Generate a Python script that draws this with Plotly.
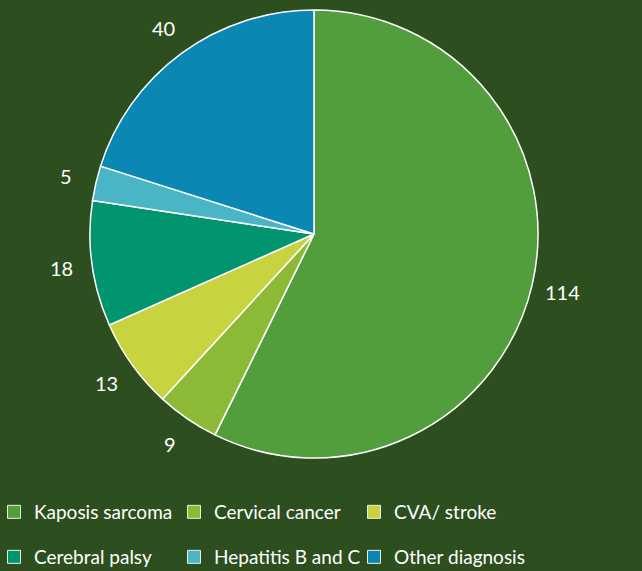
import math
import plotly.graph_objects as go

labels = ["Kaposis sarcoma", "Cervical cancer", "CVA/ stroke",
          "Cerebral palsy", "Hepatitis B and C", "Other diagnosis"]
values = [114, 9, 13, 18, 5, 40]
colors = ["#529E3C", "#8CB936", "#C7D33F", "#00956F", "#4AB5C5", "#0A87B2"]

W, H = 642, 571
CX, CY, R = 314, 234, 224   # pie centre / radius in px
LABEL_R = 255

BG = "#2D4E1E"
FONT = "Lato"

fig = go.Figure()
fig.add_trace(go.Pie(
    labels=labels, values=values, sort=False, direction="clockwise", rotation=0,
    marker=dict(colors=colors, line=dict(color="white", width=1.5)),
    textinfo="none", hoverinfo="label+value", showlegend=False,
    domain=dict(x=[(CX - R) / W, (CX + R) / W],
                y=[(H - CY - R) / H, (H - CY + R) / H]),
))

# legend proxies (two rows of three)
for i, (lab, col) in enumerate(zip(labels, colors)):
    fig.add_trace(go.Scatter(
        x=[None], y=[None], mode="markers", name=lab,
        marker=dict(symbol="square", size=13, color=col,
                    line=dict(color="#E8F0E0", width=1)),
        legend="legend" if i < 3 else "legend2", hoverinfo="skip"))

total = sum(values)
cum = 0
annotations = []
for v in values:
    mid = (cum + v / 2) / total * 2 * math.pi
    cum += v
    px = CX + LABEL_R * math.sin(mid)
    py = CY - LABEL_R * math.cos(mid)
    annotations.append(dict(x=px / W, y=1 - py / H, xref="paper", yref="paper",
                            text=str(v), showarrow=False,
                            font=dict(color="white", size=20, family=FONT),
                            xanchor="center", yanchor="middle"))

leg_common = dict(orientation="h", xanchor="left", yanchor="middle",
                  xref="container", yref="container",
                  entrywidth=141, indentation=-6,
                  font=dict(color="white", size=19, family=FONT),
                  itemclick=False, itemdoubleclick=False, bgcolor="rgba(0,0,0,0)")

fig.update_layout(
    width=W, height=H, margin=dict(l=0, r=0, t=0, b=0, autoexpand=False),
    paper_bgcolor=BG, plot_bgcolor=BG,
    annotations=annotations,
    xaxis=dict(visible=False), yaxis=dict(visible=False),
    showlegend=True,
    legend=dict(x=0, y=1 - 512 / H, **leg_common),
    legend2=dict(x=0, y=1 - 557 / H, **leg_common),
)
fig.write_html("out.html", config={"displayModeBar": False},
               post_script="document.body.style.margin='0';")
